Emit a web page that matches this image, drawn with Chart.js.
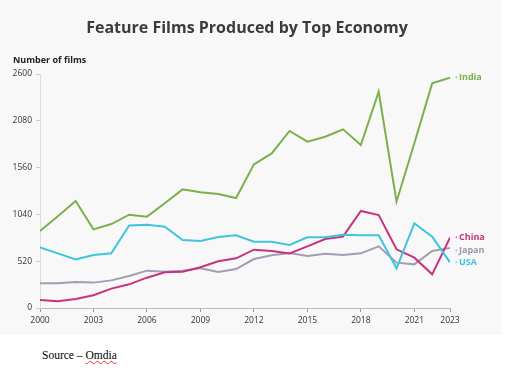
<!DOCTYPE html>
<html lang="en">

<head>
    <meta charset="UTF-8">
    <title>Feature Films Produced by Top Economy</title>
    <script src="https://cdn.jsdelivr.net/npm/chart.js"></script>
    <style>
        body { margin: 0; background: #fff; font-family: "Open Sans", sans-serif; }
        #panel { position: absolute; left: 0; top: 0; width: 502px; height: 335px; background: #f8f8f8; }
        #title { position: absolute; left: 0; width: 494px; top: 16px; text-align: center; font-size: 16px; font-weight: 700; font-stretch: 100%; color: #3b3b3b; }
        #ylabel { position: absolute; left: 13px; top: 53px; font-size: 9px; font-weight: 700; font-stretch: 100%; color: #222; }
        #source { position: absolute; left: 42px; top: 349px; font-family: "Liberation Serif", serif; font-size: 11.5px; color: #000; }
        #source span { text-decoration: underline wavy #d33; text-decoration-thickness: 1px; }
    </style>
</head>

<body>
    <div id="panel">
        <canvas id="chart" width="502" height="335"></canvas>
        <div id="title">Feature Films Produced by Top Economy</div>
        <div id="ylabel">Number of films</div>
    </div>
    <div id="source">Source – <span>Omdia</span></div>

    <script>
        // values
        const years = [2000, 2001, 2002, 2003, 2004, 2005, 2006, 2007, 2008, 2009, 2010, 2011,
            2012, 2013, 2014, 2015, 2016, 2017, 2018, 2019, 2020, 2021, 2022, 2023];
        const india = [855, 1020, 1190, 874, 933, 1037, 1015, 1163, 1318, 1285, 1266, 1222,
            1596, 1718, 1967, 1848, 1903, 1985, 1811, 2403, 1181, 1830, 2496, 2559];
        const usa = [674, 607, 540, 588, 607, 918, 926, 904, 755, 744, 789, 807,
            737, 737, 700, 785, 785, 815, 807, 807, 441, 941, 793, 507];
        const china = [89, 74, 100, 141, 215, 263, 337, 396, 404, 452, 519, 552,
            648, 633, 607, 685, 767, 793, 1078, 1033, 652, 559, 374, 782];
        const japan = [274, 274, 289, 282, 307, 356, 415, 404, 415, 441, 400, 433,
            544, 585, 611, 578, 604, 589, 607, 685, 504, 485, 633, 667];
        const xTicks = [2000, 2003, 2006, 2009, 2012, 2015, 2018, 2021, 2023];
        const yTicks = [0, 520, 1040, 1560, 2080, 2600];

        function pts(vals) {
            return vals.map((v, i) => ({ x: years[i], y: v }));
        }

        // series names at the end of each line, pushed apart if they collide
        const endLabels = {
            id: "endLabels",
            afterDatasetsDraw(chart) {
                const ctx = chart.ctx;
                let items = chart.data.datasets.map((ds, i) => {
                    const meta = chart.getDatasetMeta(i);
                    const p = meta.data[meta.data.length - 1];
                    return { text: ds.label, color: ds.labelColor || ds.borderColor, x: p.x, y: p.y };
                });
                items.sort((a, b) => a.y - b.y);
                for (let i = 1; i < items.length; i++) {
                    if (items[i].y - items[i - 1].y < 12.5) items[i].y = items[i - 1].y + 12.5;
                }
                ctx.save();
                ctx.textBaseline = "middle";
                items.forEach(it => {
                    ctx.fillStyle = it.color;
                    ctx.font = "700 9px 'Open Sans'";
                    ctx.fillText("·", it.x + 5, it.y);
                    ctx.fillText(it.text, it.x + 9, it.y);
                });
                ctx.restore();
            }
        };

        const lineOpts = { borderWidth: 2, pointRadius: 0, tension: 0, fill: false };

        new Chart(document.getElementById("chart"), {
            type: "line",
            data: {
                datasets: [
                    { label: "India", data: pts(india), borderColor: "#7bb04a", ...lineOpts },
                    { label: "USA", data: pts(usa), borderColor: "#3fc4de", ...lineOpts },
                    { label: "China", data: pts(china), borderColor: "#c5347d", ...lineOpts },
                    { label: "Japan", data: pts(japan), borderColor: "#a29db5", labelColor: "#9b97ae", ...lineOpts }
                ]
            },
            options: {
                responsive: false,
                animation: false,
                layout: { padding: { top: 74, right: 52, left: 0, bottom: 0 } },
                plugins: { legend: { display: false }, tooltip: { enabled: false } },
                scales: {
                    x: {
                        type: "linear",
                        min: 2000,
                        max: 2023,
                        afterBuildTicks: s => { s.ticks = xTicks.map(v => ({ value: v })); },
                        afterFit: s => { s.height = 27; },
                        grid: { drawOnChartArea: false, tickLength: 4, color: "#999" },
                        border: { color: "#bbb", width: 1 },
                        ticks: {
                            padding: 3,
                            color: "#333",
                            font: { family: "Open Sans", size: 8.5 },
                            callback: v => String(v),
                            maxRotation: 0,
                            autoSkip: false
                        }
                    },
                    y: {
                        min: 0,
                        max: 2600,
                        afterBuildTicks: s => { s.ticks = yTicks.map(v => ({ value: v })); },
                        afterFit: s => { s.width = 40; },
                        grid: { drawOnChartArea: false, tickLength: 4, color: "#ccc" },
                        border: { color: "#ddd", width: 1 },
                        ticks: {
                            padding: 4,
                            color: "#333",
                            font: { family: "Open Sans", size: 8.5 },
                            callback: v => String(v)
                        }
                    }
                }
            },
            plugins: [endLabels]
        });
    </script>
</body>

</html>
